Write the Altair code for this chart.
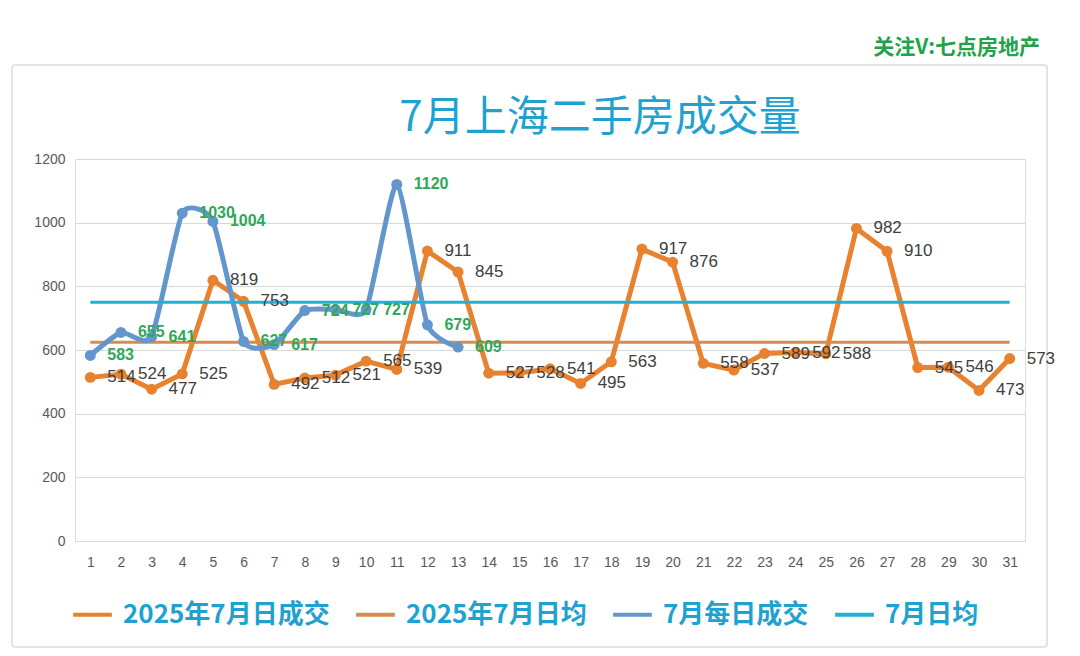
import altair as alt
import pandas as pd

# ---------------- data ----------------
DAYS = list(range(1, 32))
DAILY_2025 = [514, 524, 477, 525, 819, 753, 492, 512, 521, 565, 539, 911, 845, 527, 528,
              541, 495, 563, 917, 876, 558, 537, 589, 592, 588, 982, 910, 545, 546, 473, 573]
DAILY_JULY = [583, 655, 641, 1030, 1004, 627, 617, 724, 727, 727, 1120, 679, 609]
AVG_2025 = 624
AVG_JULY = 750
SERIES = ["2025年7月日成交", "2025年7月日均", "7月每日成交", "7月日均"]
COLORS = ["#E8822F", "#D98A52", "#6396CC", "#22B0D6"]
TITLE = "7月上海二手房成交量"
WATERMARK = "关注V:七点房地产"
Y_TICKS = [0, 200, 400, 600, 800, 1000, 1200]

FONT = "Liberation Sans, Noto Sans CJK SC"
CJK = "Noto Sans CJK SC"

df_2025 = pd.DataFrame({"day": DAYS, "value": DAILY_2025, "series": SERIES[0]})
df_july = pd.DataFrame({"day": DAYS[:len(DAILY_JULY)], "value": DAILY_JULY, "series": SERIES[2]})
df_avg25 = pd.DataFrame({"day": [DAYS[0], DAYS[-1]], "value": [AVG_2025] * 2, "series": SERIES[1]})
df_avgjul = pd.DataFrame({"day": [DAYS[0], DAYS[-1]], "value": [AVG_JULY] * 2, "series": SERIES[3]})

x_enc = alt.X("day:O", sort=DAYS, scale=alt.Scale(type="point", padding=0.5, domain=DAYS),
              axis=alt.Axis(title=None, labelAngle=0, labelFontSize=14, labelColor="#595959",
                            labelFont=FONT, domain=False, ticks=False, labelPadding=14, grid=False))
y_enc = alt.Y("value:Q", scale=alt.Scale(domain=[0, 1200], nice=False),
              axis=alt.Axis(title=None, values=Y_TICKS, format="d", labelFontSize=14,
                            labelColor="#595959", labelFont=FONT, domain=False, ticks=False,
                            labelPadding=10, grid=True, gridColor="#d9d9d9", gridWidth=1))
color_scale = alt.Scale(domain=SERIES, range=COLORS)
color_leg = alt.Color("series:N", scale=color_scale, sort=SERIES,
                      legend=alt.Legend(orient="none", legendX=-4, legendY=434, direction="horizontal",
                                        columns=4, title=None, symbolType="stroke", symbolSize=1500,
                                        symbolStrokeWidth=4, labelFontSize=26, labelFont=CJK,
                                        labelFontWeight="bold", labelColor="#1FA2CF", labelOffset=9,
                                        columnPadding=18, labelLimit=400))
color_noleg = alt.Color("series:N", scale=color_scale, legend=None)

base_kw = dict(x=x_enc, y=y_enc)

frame = alt.Chart(pd.DataFrame({"t": [0]})).mark_rect(
    fill="white", fillOpacity=0, stroke="#dcdcdc", strokeWidth=1.5, cornerRadius=3
).encode(x=alt.value(-63), x2=alt.value(972), y=alt.value(-94), y2=alt.value(488))

line25 = alt.Chart(df_2025).mark_line(strokeWidth=5).encode(color=color_leg, **base_kw)
pts25 = alt.Chart(df_2025).mark_circle(size=120, opacity=1).encode(color=color_noleg, **base_kw)
lab25 = alt.Chart(df_2025).mark_text(align="left", baseline="middle", dx=17, fontSize=17,
                                     font=FONT, color="#404040").encode(text="value:Q", **base_kw)

avg25 = alt.Chart(df_avg25).mark_line(strokeWidth=3).encode(color=color_noleg, **base_kw)

linejul = alt.Chart(df_july).mark_line(strokeWidth=5, interpolate="cardinal", tension=0.45).encode(
    color=color_noleg, **base_kw)
ptsjul = alt.Chart(df_july).mark_circle(size=120, opacity=1).encode(color=color_noleg, **base_kw)
labjul = alt.Chart(df_july).mark_text(align="left", baseline="middle", dx=17, fontSize=16,
                                      fontWeight="bold", font=FONT, color="#2EA85A").encode(text="value:Q", **base_kw)

avgjul = alt.Chart(df_avgjul).mark_line(strokeWidth=3).encode(color=color_noleg, **base_kw)

wm = alt.Chart(pd.DataFrame({"t": [WATERMARK]})).mark_text(
    align="right", baseline="middle", fontSize=21, fontWeight="bold", font=CJK, color="#22A34A"
).encode(text="t:N", x=alt.value(965), y=alt.value(-111))

title = alt.Chart(pd.DataFrame({"t": [TITLE]})).mark_text(
    align="center", baseline="middle", fontSize=42, font=CJK, color="#1FA2CF"
).encode(text="t:N", x=alt.value(525), y=alt.value(-41))

chart = alt.layer(frame, line25, pts25, avg25, linejul, ptsjul, avgjul, lab25, labjul, wm, title).properties(
    width=950, height=382,
    autosize=alt.AutoSizeParams(type="none"),
    padding={"left": 67, "top": 151, "right": 30, "bottom": 107},
).configure_view(stroke=None).configure(background="white")

chart.save("out.html", embed_options={"renderer": "svg", "actions": False})
